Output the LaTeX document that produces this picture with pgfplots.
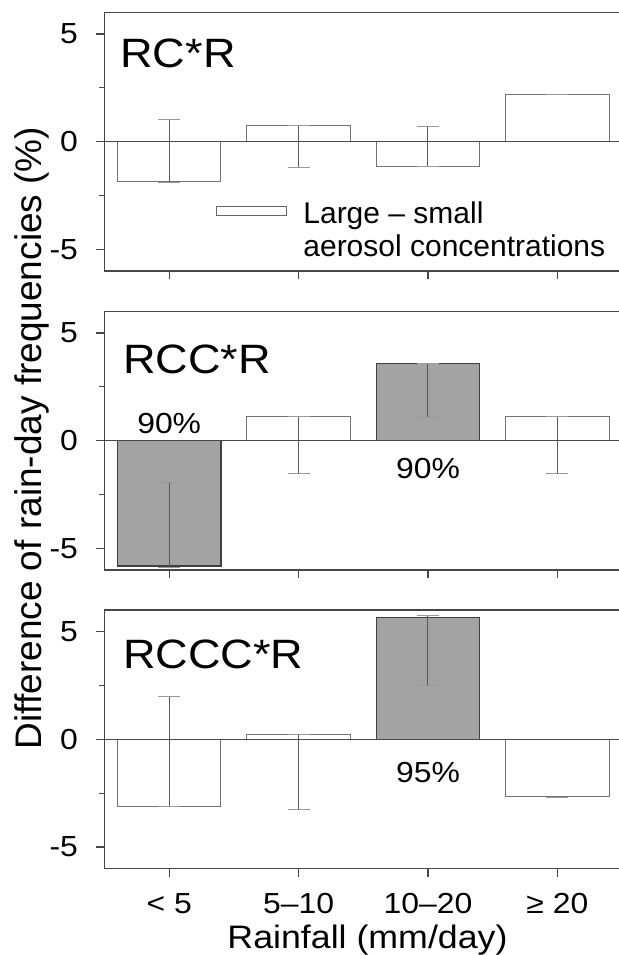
\documentclass[border=0pt]{standalone}
\usepackage{pgfplots}
\pgfplotsset{compat=1.18}
\usepackage{fontspec}
\setmainfont{Liberation Sans}[FakeStretch=1.1]
\newfontfamily\plainsans{Liberation Sans}
\definecolor{barGray}{HTML}{A3A3A3}

\pgfplotsset{panel/.style={
  scale only axis, width=258.8pt, height=129.25pt, anchor=south west,
  xmin=-0.5, xmax=3.5, ymin=-6, ymax=6,
  ybar, bar width=0.8,
  ytick={-5,0,5}, yticklabels={-5,0,5}, minor ytick={-2.5,2.5},
  xtick={0,1,2,3}, xticklabels={},
  tick pos=left, tick align=outside,
  major tick length=4.2pt, minor tick length=2.5pt,
  axis line style={draw=black!72, line width=0.7pt},
  tick style={black!72, line width=0.6pt},
  yticklabel style={font=\fontsize{14.5}{16}\selectfont, anchor=east, inner sep=0pt, xshift=-8.9pt},
  xticklabel style={font=\fontsize{14.5}{16}\selectfont, anchor=base, inner sep=0pt, yshift=-18.2pt},
  clip=false,
  error bars/y dir=both, error bars/y explicit,
  error bars/error bar style={line width=0.5pt, black!65},
  error bars/error mark options={rotate=90, mark size=5.5pt, line width=0.4pt, black!40},
},
whitebar/.style={fill=white, draw=black!55, line width=0.5pt, bar shift=0pt},
graybar/.style={fill=barGray, draw=black!75, line width=0.6pt, bar shift=0pt},
}

\begin{document}
\begin{tikzpicture}
\useasboundingbox (0pt,0pt) rectangle (309.5pt,477.5pt);

% ---------- Panel 1: RC*R ----------
\begin{axis}[panel, at={(52.25pt,342pt)}]
\addplot[whitebar] coordinates {
  (0,-1.86) += (0,2.90) -= (0,0.04)
  (1,0.74)  += (0,0)    -= (0,1.95)
  (2,-1.13) += (0,1.83) -= (0,0)
  (3,2.20)  += (0,0)    -= (0,0)
};
\draw[black!72, line width=0.7pt] (axis cs:-0.5,0) -- (axis cs:3.5,0);
\node[anchor=base west, inner sep=0pt, font=\fontsize{20.5}{24}\selectfont] at (axis cs:-0.38,3.43) {RC*R};
\draw[black!60, line width=0.5pt, fill=white] (axis cs:0.369,-2.99) rectangle (axis cs:0.903,-3.41);
\node[anchor=base west, inner sep=0pt, font=\plainsans\fontsize{15}{18}\selectfont] at (axis cs:1.034,-3.78) {Large – small};
\node[anchor=base west, inner sep=0pt, font=\plainsans\fontsize{15}{18}\selectfont] at (axis cs:1.034,-5.32) {aerosol concentrations};
\end{axis}

% ---------- Panel 2: RCC*R ----------
\begin{axis}[panel, at={(52.25pt,192.5pt)}]
\addplot[whitebar] coordinates {
  (1,1.12) += (0,0) -= (0,2.65)
  (3,1.12) += (0,0) -= (0,2.65)
};
\addplot[graybar] coordinates {
  (0,-5.81) += (0,3.86) -= (0,0.05)
  (2,3.57)  += (0,0)    -= (0,2.48)
};
\draw[black!72, line width=0.7pt] (axis cs:-0.5,0) -- (axis cs:3.5,0);
\node[anchor=base west, inner sep=0pt, font=\fontsize{20.5}{24}\selectfont] at (axis cs:-0.36,3.13) {RCC*R};
\node[anchor=base, inner sep=0pt, font=\fontsize{14.5}{16}\selectfont] at (axis cs:0,0.34) {90\%};
\node[anchor=base, inner sep=0pt, font=\fontsize{14.5}{16}\selectfont] at (axis cs:2,-1.75) {90\%};
\end{axis}

% ---------- Panel 3: RCCC*R ----------
\begin{axis}[panel, at={(52.25pt,43.25pt)},
  xticklabels={< 5, 5–10, 10–20, ≥ 20}]
\addplot[whitebar] coordinates {
  (0,-3.10) += (0,5.10) -= (0,0.02)
  (1,0.22)  += (0,0)    -= (0,3.49)
  (3,-2.68) += (0,0)    -= (0,0)
};
\addplot[graybar] coordinates {
  (2,5.66) += (0,0.10) -= (0,3.18)
};
\draw[black!72, line width=0.7pt] (axis cs:-0.5,0) -- (axis cs:3.5,0);
\node[anchor=base west, inner sep=0pt, font=\fontsize{20.5}{24}\selectfont] at (axis cs:-0.36,3.29) {RCCC*R};
\node[anchor=base, inner sep=0pt, font=\fontsize{14.5}{16}\selectfont] at (axis cs:2,-1.99) {95\%};
\end{axis}

% ---------- Shared axis titles ----------
\node[rotate=90, anchor=base, inner sep=0pt, font=\plainsans\fontsize{18.5}{22}\selectfont] at (20.85pt,258.5pt) {Difference of rain-day frequencies (\%)};
\node[anchor=base, inner sep=0pt, font=\fontsize{16.25}{19}\selectfont] at (183.75pt,3.35pt) {Rainfall (mm/day)};
\end{tikzpicture}
\end{document}
